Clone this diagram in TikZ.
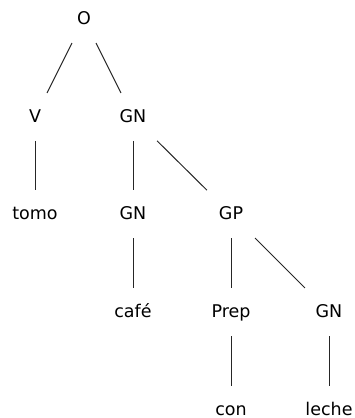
\documentclass[tikz,border=0pt]{standalone}
\usepackage{fontspec}
\setmainfont{DejaVu Sans}
\usetikzlibrary{calc}
\begin{document}
\begin{tikzpicture}[x=1bp,y=-1bp,
  lbl/.style={anchor=base,text height=13bp,text depth=3bp,inner ysep=16bp,inner xsep=2bp,font=\fontsize{17.5bp}{21bp}\selectfont},
  edge/.style={draw=black!85,line width=1bp}]
\useasboundingbox (0,0) rectangle (355,418);
\node[lbl] (o) at (84,24) {O};
\node[lbl] (v) at (35,122) {V};
\node[lbl] (gn1) at (133,122) {GN};
\node[lbl] (tomo) at (35,219) {tomo};
\node[lbl] (gn2) at (133,219) {GN};
\node[lbl] (gp) at (231,219) {GP};
\node[lbl] (cafe) at (133,317) {café};
\node[lbl] (prep) at (231,317) {Prep};
\node[lbl] (gn3) at (329,317) {GN};
\node[lbl] (con) at (231,415) {con};
\node[lbl] (leche) at (329,415) {leche};
\newcommand\treeedge[2]{\draw[edge] ($(#1.center)!0.245!(#2.center)$) -- ($(#1.center)!0.755!(#2.center)$);}
\treeedge{o}{v}
\treeedge{o}{gn1}
\treeedge{v}{tomo}
\treeedge{gn1}{gn2}
\treeedge{gn1}{gp}
\treeedge{gn2}{cafe}
\treeedge{gp}{prep}
\treeedge{gp}{gn3}
\treeedge{prep}{con}
\treeedge{gn3}{leche}
\end{tikzpicture}
\end{document}
